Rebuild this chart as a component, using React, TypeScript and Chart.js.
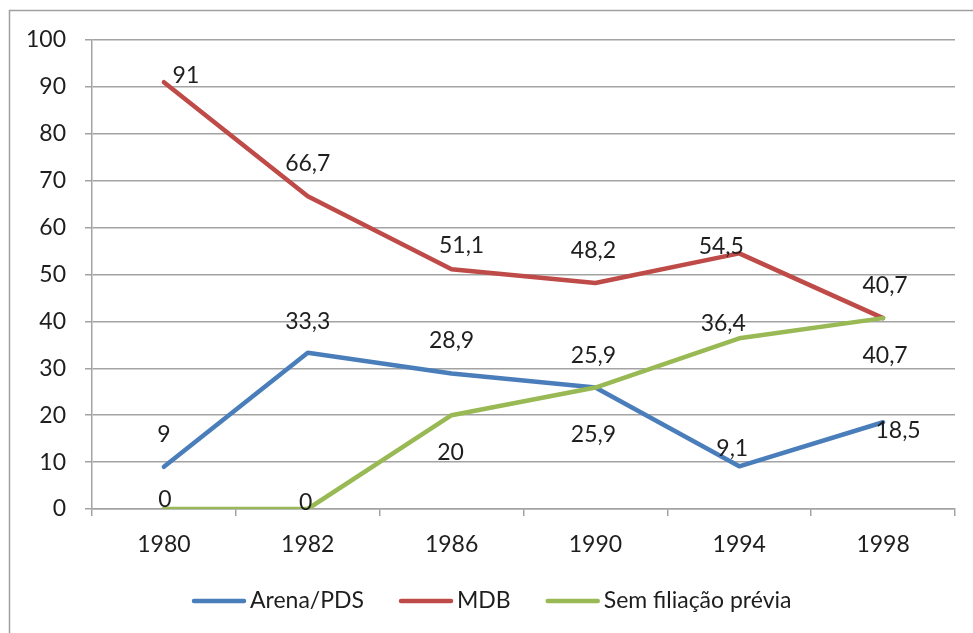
import React, { useEffect, useRef } from "react";
import { Chart, registerables } from "chart.js";

Chart.register(...registerables);

const categories = ["1980", "1982", "1986", "1990", "1994", "1998"];
const arenaValues = [9, 33.3, 28.9, 25.9, 9.1, 18.5];
const mdbValues = [91, 66.7, 51.1, 48.2, 54.5, 40.7];
const semValues = [0, 0, 20, 25.9, 36.4, 40.7];
const seriesNames = ["Arena/PDS", "MDB", "Sem filiação prévia"];
const seriesColors = ["#4a7ebb", "#be4b48", "#98b954"];

// label placement offsets (pixels, relative to point), style config
const arenaLabelOffsets = [[0, -32], [0, -31], [0, -33], [-2, -32], [-7, -18], [15, 8]];
const mdbLabelOffsets = [[22, -7], [0, -33], [10, -24], [-2, -32], [-18, -7], [2, -33]];
const semLabelOffsets = [[1, -9], [-2, -6], [-1, 37], [-2, 47], [-16, -15], [2, 37]];

const FONT = "Lato, 'Open Sans', sans-serif";
const FONT_SIZE = 23;
const TEXT_COLOR = "#1e1e1e";
const GRID_COLOR = "#a3a3a3";

const labelPlugin = {
  id: "pointLabels",
  afterDatasetsDraw(chart: any) {
    const ctx = chart.ctx;
    const offsets = [arenaLabelOffsets, mdbLabelOffsets, semLabelOffsets];
    ctx.save();
    ctx.font = `${FONT_SIZE}px ${FONT}`;
    ctx.fillStyle = TEXT_COLOR;
    ctx.textAlign = "center";
    ctx.textBaseline = "middle";
    chart.data.datasets.forEach((ds: any, di: number) => {
      const meta = chart.getDatasetMeta(di);
      meta.data.forEach((pt: any, i: number) => {
        const v = ds.data[i];
        const txt = String(v).replace(".", ",");
        const [dx, dy] = offsets[di][i];
        ctx.fillText(txt, pt.x + dx, pt.y + dy);
      });
    });
    ctx.restore();
  },
};

const framePlugin = {
  id: "frameAndLegend",
  afterDraw(chart: any) {
    const ctx = chart.ctx;
    ctx.save();
    // outer frame (left and top visible)
    ctx.strokeStyle = "#a0a0a0";
    ctx.lineWidth = 1.5;
    ctx.beginPath();
    ctx.moveTo(9.5, 700);
    ctx.lineTo(9.5, 10.5);
    ctx.lineTo(1000, 10.5);
    ctx.stroke();

    // legend
    ctx.font = `${FONT_SIZE}px ${FONT}`;
    ctx.textBaseline = "middle";
    ctx.textAlign = "left";
    const y = 601;
    let x = 192;
    const lineW = 54;
    seriesNames.forEach((name, i) => {
      ctx.strokeStyle = seriesColors[i];
      ctx.lineWidth = 4.5;
      ctx.lineCap = "round";
      ctx.beginPath();
      ctx.moveTo(x + 2, y);
      ctx.lineTo(x + lineW - 2, y);
      ctx.stroke();
      x += lineW + 4;
      ctx.fillStyle = TEXT_COLOR;
      ctx.fillText(name, x, y);
      x += ctx.measureText(name).width + 35;
    });
    ctx.restore();
  },
};

export default function App() {
  const canvasRef = useRef<HTMLCanvasElement | null>(null);

  useEffect(() => {
    if (!canvasRef.current) return;
    const mk = (label: string, data: number[], color: string, order: number) => ({
      label,
      data,
      borderColor: color,
      backgroundColor: color,
      borderWidth: 4.5,
      pointRadius: 0,
      pointHoverRadius: 0,
      tension: 0,
      borderCapStyle: "round" as const,
      borderJoinStyle: "round" as const,
      order,
    });
    const chart = new Chart(canvasRef.current, {
      type: "line",
      data: {
        labels: categories,
        datasets: [
          mk(seriesNames[0], arenaValues, seriesColors[0], 3),
          mk(seriesNames[1], mdbValues, seriesColors[1], 2),
          mk(seriesNames[2], semValues, seriesColors[2], 1),
        ],
      },
      options: {
        animation: false,
        responsive: false,
        devicePixelRatio: 1,
        layout: { padding: { left: 10, right: 18, top: 40, bottom: 0 } },
        plugins: {
          legend: { display: false },
          tooltip: { enabled: false },
        },
        scales: {
          x: {
            type: "category",
            offset: true,
            grid: {
              offset: true,
              drawOnChartArea: false,
              drawTicks: true,
              tickLength: 7,
              color: GRID_COLOR,
              lineWidth: 1.5,
            },
            border: { display: true, color: GRID_COLOR, width: 1.5 },
            ticks: {
              font: { family: FONT, size: FONT_SIZE },
              color: TEXT_COLOR,
              padding: 15,
              maxRotation: 0,
              autoSkip: false,
            },
            afterFit(scale: any) {
              scale.height = 124;
            },
          },
          y: {
            min: 0,
            max: 100,
            grid: {
              drawTicks: true,
              tickLength: 7,
              color: GRID_COLOR,
              lineWidth: 1.5,
            },
            border: { display: true, color: GRID_COLOR, width: 1.5 },
            ticks: {
              stepSize: 10,
              font: { family: FONT, size: FONT_SIZE },
              color: TEXT_COLOR,
              padding: 19,
            },
            afterFit(scale: any) {
              scale.width = 82;
            },
          },
        },
      },
      plugins: [labelPlugin, framePlugin],
    });
    return () => chart.destroy();
  }, []);

  return (
    <div style={{ position: "absolute", left: 0, top: 0, width: 973, height: 633, background: "#fff" }}>
      <canvas ref={canvasRef} width={973} height={633} style={{ display: "block" }} />
    </div>
  );
}
